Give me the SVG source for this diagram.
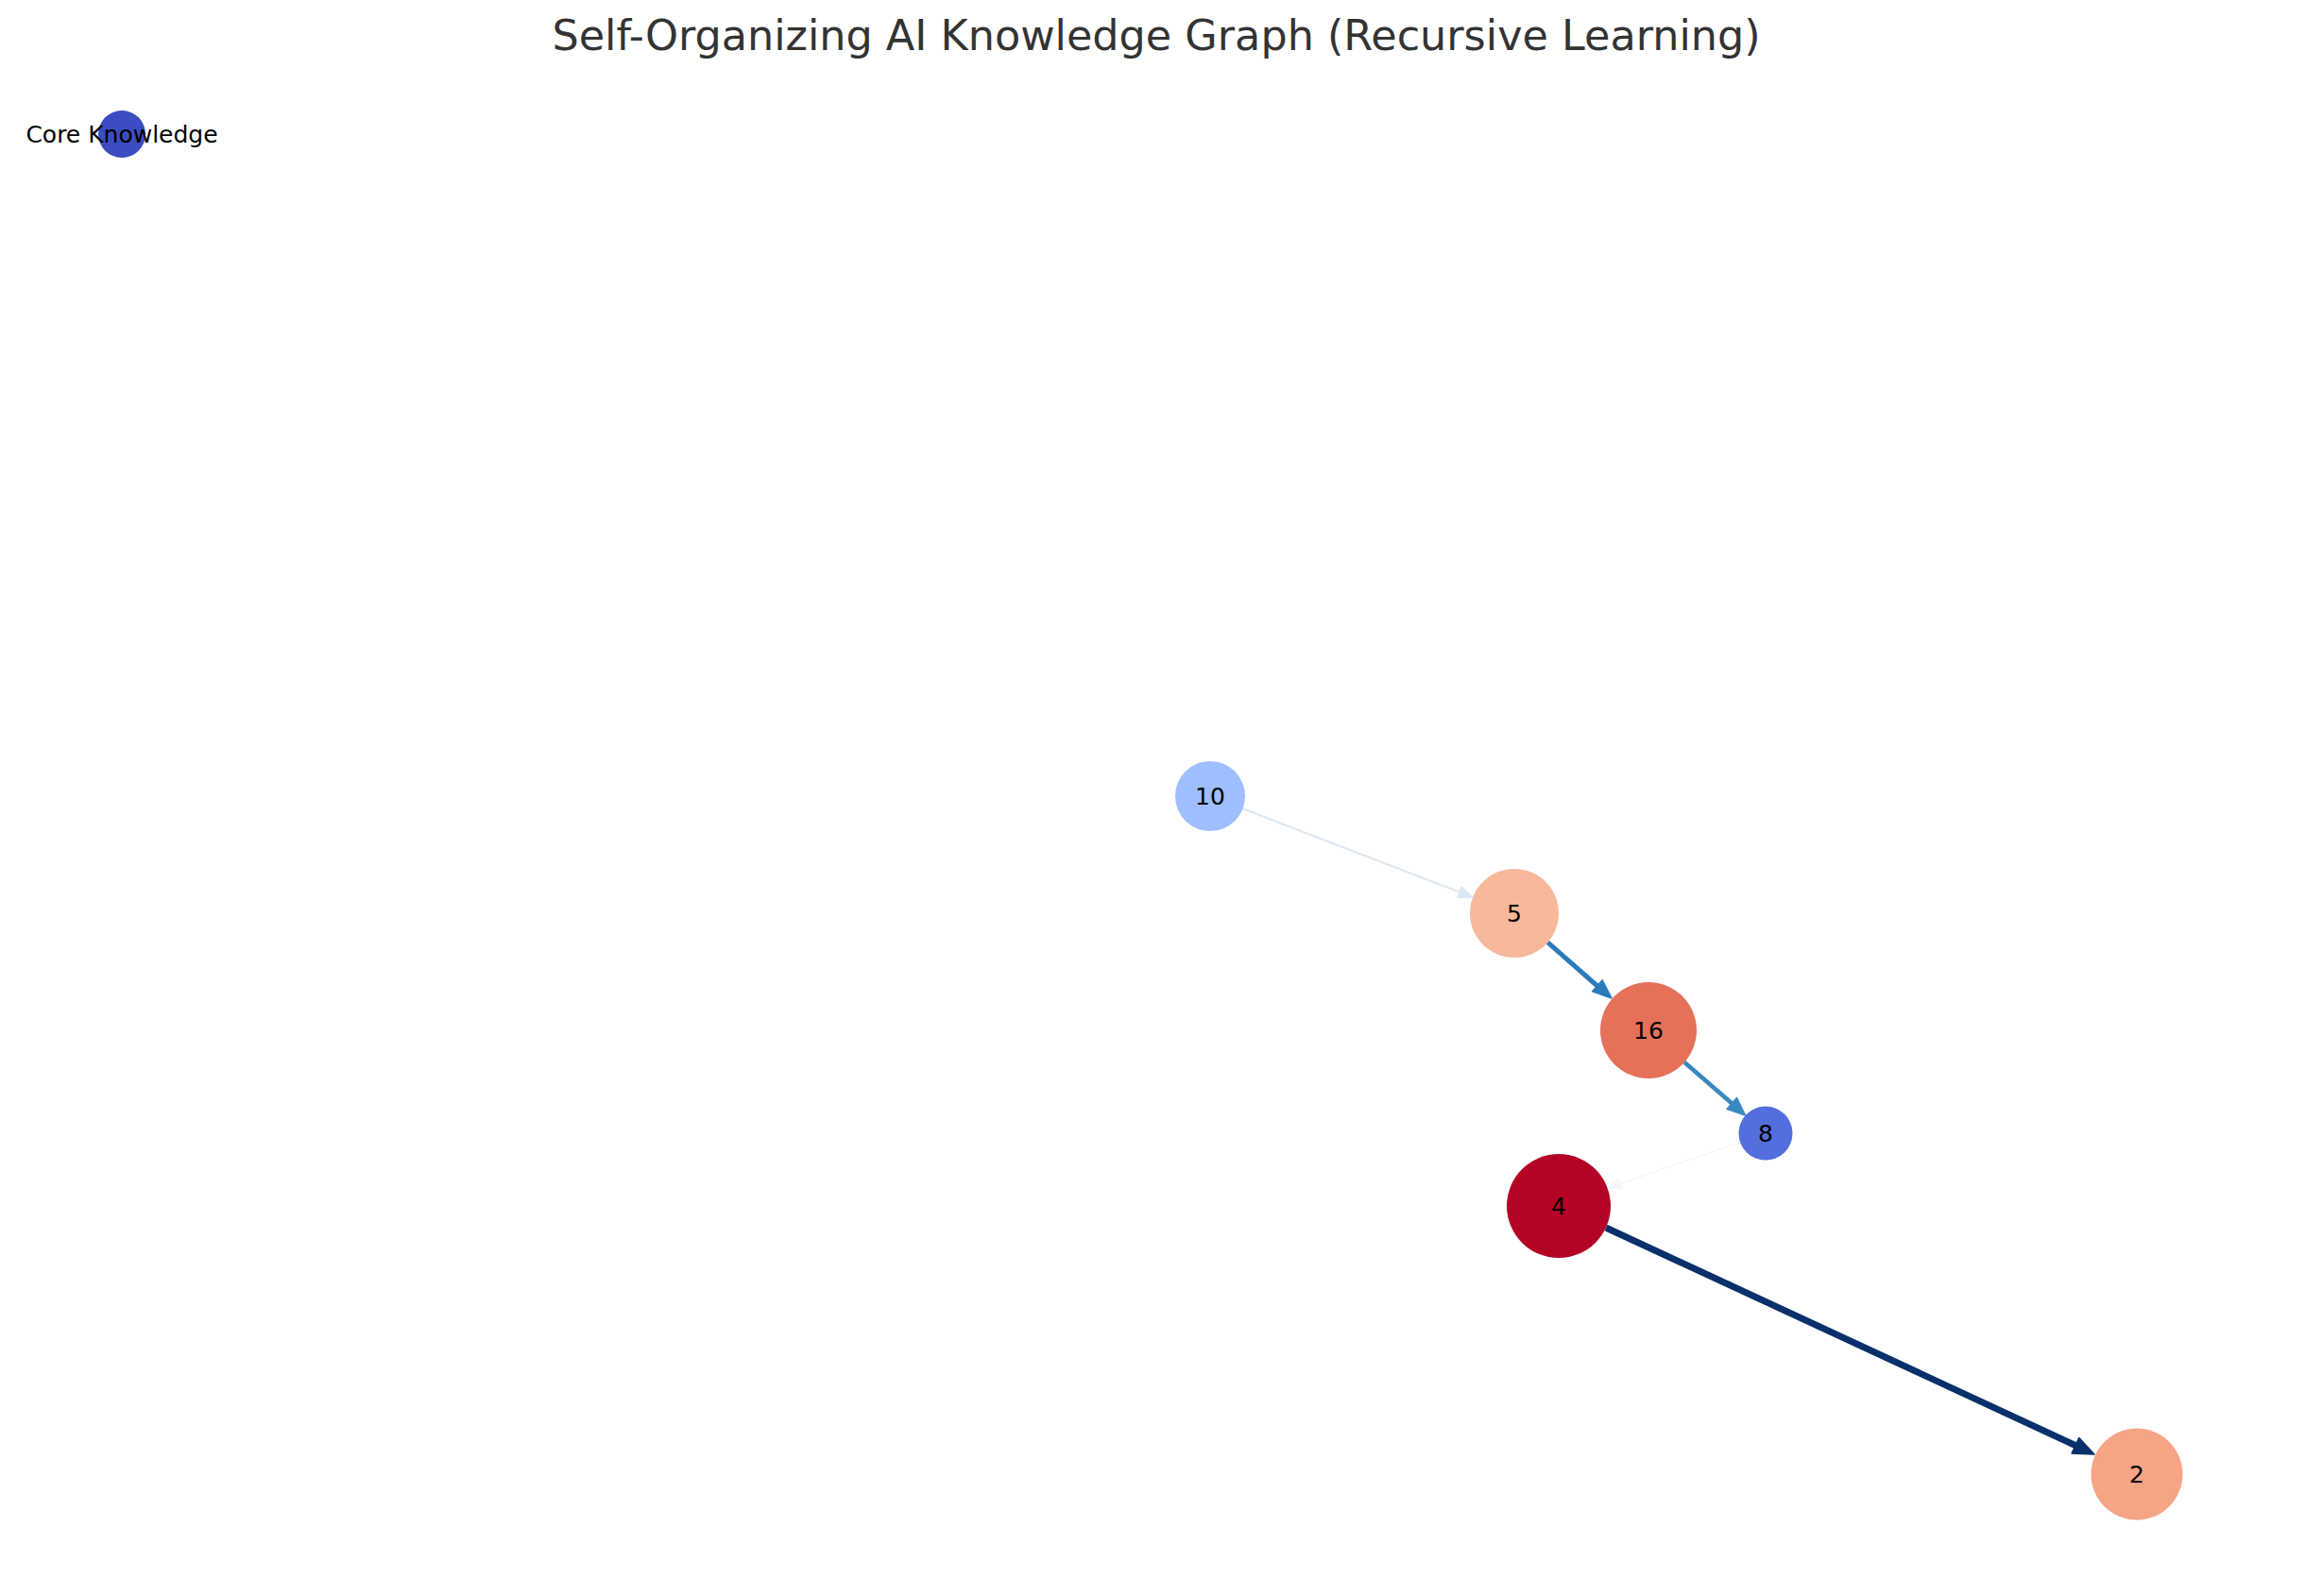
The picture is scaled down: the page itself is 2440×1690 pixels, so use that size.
<svg xmlns="http://www.w3.org/2000/svg" width="2440" height="1690" viewBox="0 0 2440 1690">
<style>
text { font-family: "DejaVu Sans", "Liberation Sans", sans-serif; }
.title { font-size: 44.5px; fill: #333333; text-anchor: middle; }
.lbl { font-size: 25px; fill: #000000; text-anchor: middle; }
.edge { fill: none; stroke-linecap: butt; }
.head { stroke-linejoin: round; stroke-width: 1.5; }
</style>
<rect x="0" y="0" width="2440" height="1690" fill="#ffffff"/>
<text class="title" x="1224" y="53">Self-Organizing AI Knowledge Graph (Recursive Learning)</text>
<g id="connectors">
  <g id="e10-5">
    <line class="edge" x1="1315.5" y1="856.3" x2="1546" y2="945" stroke="#dbe9f6" stroke-width="2"/>
    <polygon class="head" points="1559,950 1542.8,950.2 1547.2,939.0" fill="#dbe9f6" stroke="#dbe9f6"/>
  </g>
  <g id="e5-16">
    <line class="edge" x1="1638.4" y1="997.9" x2="1692" y2="1045" stroke="#2b7bba" stroke-width="5"/>
    <polygon class="head" points="1706,1057 1685.6,1049.8 1696.2,1037.8" fill="#2b7bba" stroke="#2b7bba"/>
  </g>
  <g id="e16-8">
    <line class="edge" x1="1783" y1="1124.7" x2="1834" y2="1169" stroke="#3989c1" stroke-width="4.5"/>
    <polygon class="head" points="1847.5,1181 1827.9,1174.4 1838.5,1162.4" fill="#3989c1" stroke="#3989c1"/>
  </g>
  <g id="e8-4">
    <line class="edge" x1="1842" y1="1209.5" x2="1715" y2="1253.5" stroke="#f1f7fd" stroke-width="1.5"/>
    <polygon class="head" points="1702,1258 1713.4,1248.2 1717.0,1258.6" fill="#f1f7fd" stroke="#f1f7fd"/>
  </g>
  <g id="e4-2">
    <line class="edge" x1="1700" y1="1300" x2="2198" y2="1531" stroke="#08306b" stroke-width="7"/>
    <polygon class="head" points="2217,1540 2193.2,1538.9 2200.8,1522.5" fill="#08306b" stroke="#08306b"/>
  </g>
</g>
<g id="node-core">
  <circle cx="129" cy="142" r="25" fill="#3b4cc0"/>
  <text class="lbl" x="129" y="151">Core Knowledge</text>
</g>
<g id="node-10">
  <circle cx="1281" cy="843" r="37" fill="#9ebeff"/>
  <text class="lbl" x="1281" y="852">10</text>
</g>
<g id="node-5">
  <circle cx="1603" cy="967" r="47" fill="#f7b89c"/>
  <text class="lbl" x="1603" y="976">5</text>
</g>
<g id="node-16">
  <circle cx="1745" cy="1091" r="51" fill="#e5715a"/>
  <text class="lbl" x="1745" y="1100">16</text>
</g>
<g id="node-8">
  <circle cx="1869" cy="1200" r="28.5" fill="#536edd"/>
  <text class="lbl" x="1869" y="1209">8</text>
</g>
<g id="node-4">
  <circle cx="1650" cy="1277" r="55" fill="#b40426"/>
  <text class="lbl" x="1650" y="1286">4</text>
</g>
<g id="node-2">
  <circle cx="2262" cy="1561" r="48.5" fill="#f5a486"/>
  <text class="lbl" x="2262" y="1570">2</text>
</g>
</svg>
